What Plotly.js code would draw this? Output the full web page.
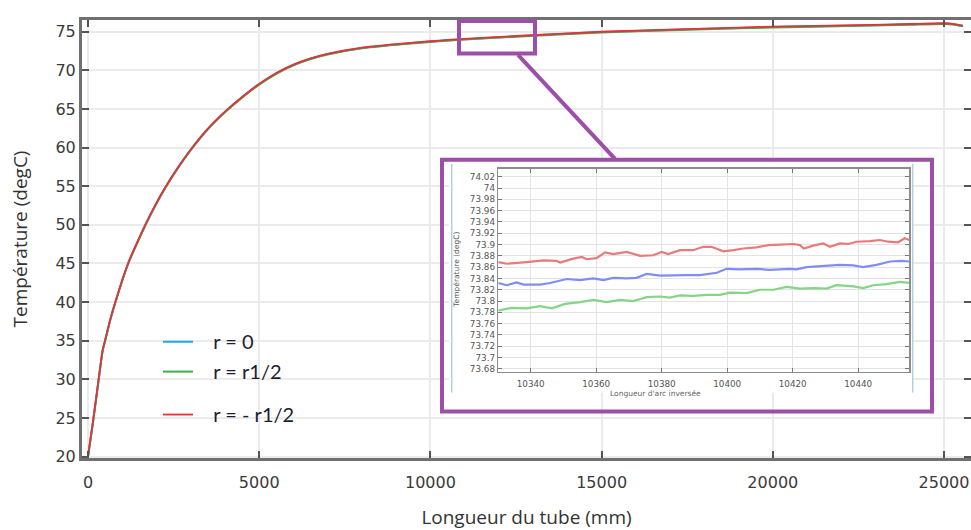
<!DOCTYPE html>
<html><head><meta charset="utf-8">
<script src="https://cdn.plot.ly/plotly-3.0.1.min.js"></script>
<style>html,body{margin:0;padding:0;background:#fff}</style>
</head><body><div id="chart" style="width:971px;height:530px"></div>
<script>
// ---------- main chart data ----------
const seriesNames = ["r = 0", "r = r1/2", "r = - r1/2"];
const lengthMm = [0, 150, 300, 430, 500, 650, 800, 1000, 1200, 1450, 1700, 2000, 2250, 2600, 3000, 3500, 4000, 4500, 5000, 5500, 6000, 6500, 7000, 8000, 9000, 10000, 10500, 11000, 12500, 15000, 17500, 20000, 22500, 24000, 25000, 25300, 25550];
const tempR0 = [20.0, 24.6, 29.6, 33.8, 35.0, 37.7, 40.0, 42.8, 45.3, 47.8, 50.2, 52.8, 54.75, 57.2, 59.7, 62.4, 64.6, 66.5, 68.2, 69.6, 70.7, 71.5, 72.1, 72.9, 73.35, 73.72, 73.885, 74.03, 74.4, 74.95, 75.3, 75.6, 75.8, 75.95, 76.05, 75.95, 75.75];
const tempRHalf = [20.0, 24.55, 29.55, 33.75, 34.95, 37.65, 39.95, 42.75, 45.25, 47.75, 50.15, 52.75, 54.7, 57.15, 59.65, 62.35, 64.55, 66.45, 68.15, 69.55, 70.65, 71.45, 72.05, 72.85, 73.3, 73.67, 73.835, 73.98, 74.35, 74.9, 75.25, 75.55, 75.75, 75.9, 76.0, 75.9, 75.7];
const tempRMinusHalf = [20.0, 24.64, 29.64, 33.84, 35.04, 37.74, 40.04, 42.84, 45.34, 47.84, 50.24, 52.84, 54.79, 57.24, 59.74, 62.44, 64.64, 66.54, 68.24, 69.64, 70.74, 71.54, 72.14, 72.94, 73.39, 73.76, 73.925, 74.07, 74.44, 74.99, 75.34, 75.64, 75.84, 75.99, 76.09, 75.99, 75.79];

// ---------- inset (zoom) data ----------
const insetX_R0 = [10330.1, 10332.7, 10335.7, 10337.8, 10342.8, 10345.9, 10351.0, 10355.1, 10359.1, 10362.2, 10365.2, 10369.3, 10372.3, 10375.4, 10379.5, 10383.5, 10387.6, 10391.7, 10396.8, 10399.8, 10403.9, 10409.0, 10413.0, 10419.1, 10421.2, 10424.2, 10429.3, 10434.4, 10438.5, 10441.5, 10445.6, 10449.7, 10453.2, 10455.6];
const insetT_R0 = [73.832, 73.828, 73.833, 73.829, 73.829, 73.832, 73.839, 73.837, 73.840, 73.837, 73.841, 73.840, 73.841, 73.848, 73.845, 73.846, 73.846, 73.846, 73.850, 73.857, 73.856, 73.857, 73.855, 73.857, 73.856, 73.860, 73.862, 73.864, 73.863, 73.860, 73.864, 73.870, 73.871, 73.870];
const insetX_RHalf = [10330.1, 10334.2, 10338.8, 10342.8, 10346.4, 10350.5, 10355.1, 10359.1, 10363.2, 10367.3, 10371.3, 10375.4, 10379.5, 10382.5, 10385.6, 10389.6, 10393.7, 10397.8, 10400.8, 10405.9, 10410.0, 10414.1, 10418.1, 10422.2, 10426.3, 10430.3, 10433.4, 10438.5, 10441.5, 10444.6, 10448.6, 10452.7, 10455.6];
const insetT_RHalf = [73.783, 73.788, 73.787, 73.791, 73.787, 73.795, 73.798, 73.802, 73.798, 73.802, 73.800, 73.807, 73.808, 73.806, 73.810, 73.809, 73.811, 73.811, 73.815, 73.814, 73.820, 73.820, 73.825, 73.822, 73.823, 73.822, 73.828, 73.826, 73.823, 73.828, 73.830, 73.834, 73.832];
const insetX_RMinusHalf = [10330.1, 10332.7, 10338.8, 10343.9, 10347.9, 10349.0, 10353.0, 10355.6, 10357.1, 10360.1, 10362.7, 10365.2, 10369.3, 10373.4, 10377.4, 10380.0, 10382.0, 10385.6, 10389.6, 10392.7, 10395.2, 10398.8, 10401.9, 10404.9, 10409.0, 10412.5, 10416.1, 10420.2, 10422.2, 10423.4, 10426.3, 10429.3, 10431.4, 10434.4, 10437.0, 10439.5, 10443.6, 10446.6, 10449.2, 10452.2, 10454.2, 10455.6];
const insetT_RMinusHalf = [73.869, 73.866, 73.869, 73.872, 73.871, 73.868, 73.875, 73.878, 73.874, 73.876, 73.886, 73.883, 73.887, 73.880, 73.881, 73.887, 73.883, 73.890, 73.890, 73.896, 73.896, 73.888, 73.890, 73.893, 73.895, 73.899, 73.900, 73.901, 73.899, 73.893, 73.898, 73.902, 73.896, 73.902, 73.901, 73.905, 73.906, 73.908, 73.905, 73.904, 73.911, 73.908];

// ---------- geometry helpers (pixel -> paper) ----------
const W = 971, H = 530, ML = 82, MR = 0, MT = 20, MB = 71.5;
const px = x => (x - ML) / (W - ML - MR);
const py = y => (H - MB - y) / (H - MT - MB);

const colBlue = '#1fa9ec', colGreen = '#3cb04c', colRed = '#e8303a';
const pad = '\u00a0\u00a0\u00a0';

const traces = [
  {x: lengthMm, y: tempR0, name: pad + seriesNames[0], type: 'scatter', mode: 'lines',
   line: {color: colBlue, width: 2, shape: 'spline', smoothing: 0.5}, legend: 'legend'},
  {x: lengthMm, y: tempRHalf, name: pad + seriesNames[1], type: 'scatter', mode: 'lines',
   line: {color: colGreen, width: 2, shape: 'spline', smoothing: 0.5}, legend: 'legend2'},
  {x: lengthMm, y: tempRMinusHalf, name: pad + seriesNames[2], type: 'scatter', mode: 'lines',
   line: {color: colRed, width: 1.8, shape: 'spline', smoothing: 0.5}, legend: 'legend3'},
  // white cover for the inset picture
  {x: [], y: [], xaxis: 'x2', yaxis: 'y2', type: 'scatter', mode: 'lines', showlegend: false, hoverinfo: 'skip'},
  // inset curves
  {x: insetX_RMinusHalf, y: insetT_RMinusHalf, xaxis: 'x3', yaxis: 'y3', type: 'scatter', mode: 'lines',
   line: {color: '#ea7a7a', width: 2.2}, showlegend: false},
  {x: insetX_R0, y: insetT_R0, xaxis: 'x3', yaxis: 'y3', type: 'scatter', mode: 'lines',
   line: {color: '#7e8ef2', width: 2.2}, showlegend: false},
  {x: insetX_RHalf, y: insetT_RHalf, xaxis: 'x3', yaxis: 'y3', type: 'scatter', mode: 'lines',
   line: {color: '#86d486', width: 2.2}, showlegend: false}
];

const tickFont = {family: 'DejaVu Sans', size: 16, color: '#3a3a3a'};
const titleFont = {family: 'Open Sans', size: 19, color: '#333'};
const legFont = {family: 'Lato', size: 20, color: '#1c1c30'};
const insetTickFont = {family: 'DejaVu Sans', size: 8.8, color: '#555'};
const purple = '#9c4ea8';

function legendAt(yPix) {
  return {x: px(158), y: py(yPix), xanchor: 'left', yanchor: 'middle',
          bgcolor: 'rgba(0,0,0,0)', borderwidth: 0, font: legFont, itemwidth: 30};
}

const layout = {
  width: W, height: H,
  margin: {l: ML, r: MR, t: MT, b: MB, pad: 0},
  paper_bgcolor: '#fff', plot_bgcolor: '#fff',
  showlegend: true,
  legend: legendAt(342), legend2: legendAt(372), legend3: legendAt(415),
  xaxis: {
    domain: [0, 1], range: [-175, 25788], tick0: 0, dtick: 5000, tickformat: 'd',
    showline: true, linecolor: '#707070', linewidth: 3, mirror: 'ticks',
    ticks: 'inside', ticklen: 7, tickwidth: 2, tickcolor: '#555',
    showgrid: true, gridcolor: '#ebebeb', gridwidth: 2, zeroline: false,
    tickfont: tickFont, ticklabelstandoff: 8,
    title: {text: 'Longueur du tube (mm)', font: titleFont, standoff: 20}
  },
  yaxis: {
    domain: [0, 1], range: [19.81, 76.51], tick0: 0, dtick: 5,
    showline: true, linecolor: '#707070', linewidth: 3, mirror: 'ticks',
    ticks: 'inside', ticklen: 7, tickwidth: 2, tickcolor: '#555',
    showgrid: true, gridcolor: '#ebebeb', gridwidth: 2, zeroline: false,
    tickfont: tickFont,
    title: {text: 'Température (degC)', font: titleFont, standoff: 23}
  },
  xaxis2: {domain: [px(449), px(913)], anchor: 'y2', range: [0, 1], showgrid: false, zeroline: false,
           showline: false, showticklabels: false, ticks: ''},
  yaxis2: {domain: [py(393), py(162)], anchor: 'x2', range: [0, 1], showgrid: false, zeroline: false,
           showline: false, showticklabels: false, ticks: ''},
  xaxis3: {
    domain: [px(498.3), px(909.3)], anchor: 'y3', range: [10330.1, 10455.6], tick0: 10340, dtick: 20,
    tickformat: 'd',
    showline: true, linecolor: '#8c8c8c', linewidth: 1.5, mirror: 'ticks',
    ticks: 'inside', ticklen: 4, tickwidth: 1, tickcolor: '#777',
    showgrid: true, gridcolor: '#e3e3e3', gridwidth: 1, zeroline: false,
    tickfont: insetTickFont, ticklabelstandoff: 3
  },
  yaxis3: {
    domain: [py(372.3), py(169)], anchor: 'x3', range: [73.6746, 74.034], tick0: 73.68, dtick: 0.02,
    exponentformat: 'none',
    showline: true, linecolor: '#8c8c8c', linewidth: 1.5, mirror: 'ticks',
    ticks: 'inside', ticklen: 4, tickwidth: 1, tickcolor: '#777',
    showgrid: true, gridcolor: '#e3e3e3', gridwidth: 1, zeroline: false,
    tickfont: insetTickFont
  },
  annotations: [
    {text: 'Température (degC)', xref: 'paper', yref: 'paper', x: px(457), y: py(270),
     textangle: -90, showarrow: false, font: {family: 'DejaVu Sans', size: 7.5, color: '#555'}},
    {text: "Longueur d'arc inversée", xref: 'paper', yref: 'paper', x: px(703), y: py(394),
     yanchor: 'middle', showarrow: false, font: {family: 'DejaVu Sans', size: 7.5, color: '#666'}}
  ],
  shapes: [
    {type: 'line', xref: 'paper', yref: 'paper', x0: px(451.7), x1: px(451.7), y0: py(164), y1: py(393),
     line: {color: '#b3cde3', width: 1.5}, layer: 'above'},
    {type: 'line', xref: 'paper', yref: 'paper', x0: px(912.7), x1: px(912.7), y0: py(164), y1: py(393),
     line: {color: '#b3cde3', width: 1.5}, layer: 'above'},
    {type: 'rect', xref: 'paper', yref: 'paper', x0: px(442), x1: px(932), y0: py(412), y1: py(160),
     line: {color: purple, width: 4}, fillcolor: 'rgba(0,0,0,0)', layer: 'above'},
    {type: 'rect', xref: 'paper', yref: 'paper', x0: px(459), x1: px(535), y0: py(53.5), y1: py(21),
     line: {color: purple, width: 4}, fillcolor: 'rgba(0,0,0,0)', layer: 'above'},
    {type: 'line', xref: 'paper', yref: 'paper', x0: px(518), y0: py(55), x1: px(615), y1: py(159),
     line: {color: purple, width: 4}, layer: 'above'}
  ]
};

Plotly.newPlot('chart', traces, layout, {displayModeBar: false, staticPlot: true});
</script>
</body></html>
